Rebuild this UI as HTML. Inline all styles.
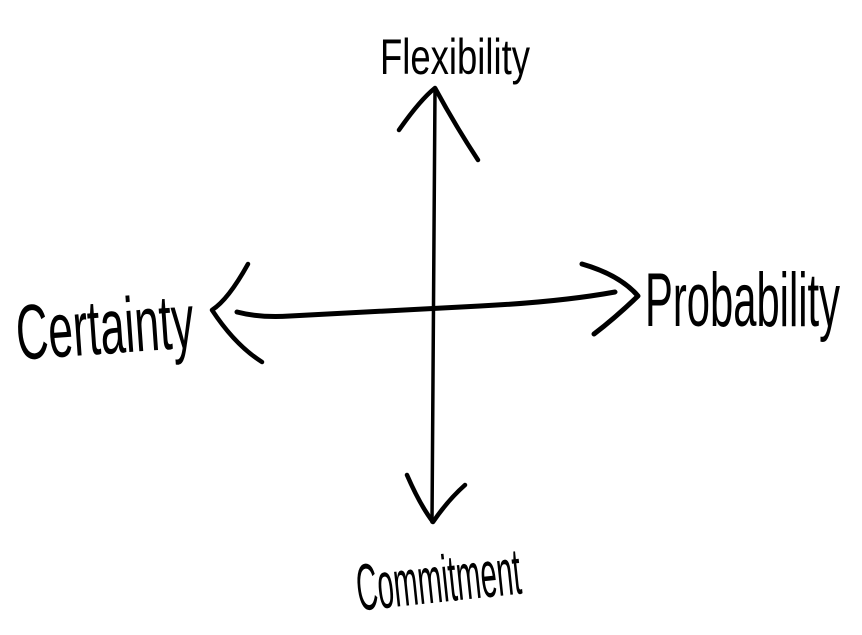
<!DOCTYPE html>
<html><head><style>
html,body{margin:0;padding:0;background:#fff;width:862px;height:635px;overflow:hidden}
svg text{font-family:"Liberation Sans Narrow","Liberation Sans",sans-serif;fill:#000}
</style></head><body>
<svg width="862" height="635" viewBox="0 0 862 635" xmlns="http://www.w3.org/2000/svg">
<g fill="none" stroke="#000" stroke-linecap="round" stroke-linejoin="round">
<path d="M435 90 Q433 300 432 522" stroke-width="3.5"/>
<path d="M399 130 Q420 100 435 88 Q455 125 478 160" stroke-width="4.5"/>
<path d="M407 475 Q420 505 433 522 Q448 500 465 485" stroke-width="4.5"/>
<path d="M237 312 Q260 318 290 316 Q400 310 480 306 Q560 302 615 292" stroke-width="5"/>
<path d="M248 264 Q228 300 212 310 Q235 345 262 362" stroke-width="4.5"/>
<path d="M582 264 Q620 275 638 296 Q615 318 594 334" stroke-width="5"/>
</g>
<text x="380" y="74" font-size="50" textLength="150" lengthAdjust="spacingAndGlyphs">Flexibility</text>
<text x="16" y="354" font-size="78" textLength="178" lengthAdjust="spacingAndGlyphs" transform="rotate(-4 100 330)">Certainty</text>
<text x="645" y="326" font-size="76" textLength="195" lengthAdjust="spacingAndGlyphs">Probability</text>
<text x="356" y="602" font-size="66" textLength="165" lengthAdjust="spacingAndGlyphs" transform="rotate(-6 440 580)">Commitment</text>
</svg>
</body></html>
